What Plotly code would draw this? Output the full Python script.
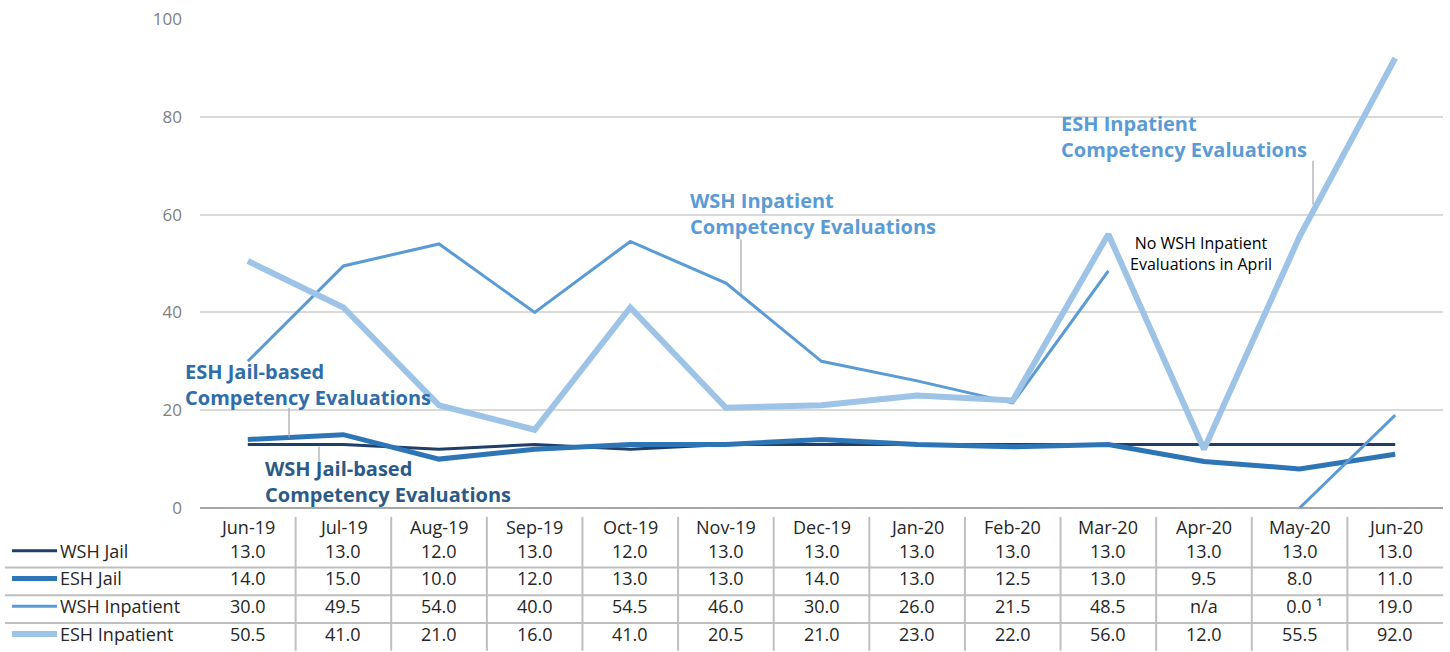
import plotly.graph_objects as go

months = ["Jun-19", "Jul-19", "Aug-19", "Sep-19", "Oct-19", "Nov-19", "Dec-19",
          "Jan-20", "Feb-20", "Mar-20", "Apr-20", "May-20", "Jun-20"]
series_names = ["WSH Jail", "ESH Jail", "WSH Inpatient", "ESH Inpatient"]
wsh_jail = [13.0, 13.0, 12.0, 13.0, 12.0, 13.0, 13.0, 13.0, 13.0, 13.0, 13.0, 13.0, 13.0]
esh_jail = [14.0, 15.0, 10.0, 12.0, 13.0, 13.0, 14.0, 13.0, 12.5, 13.0, 9.5, 8.0, 11.0]
wsh_inpatient = [30.0, 49.5, 54.0, 40.0, 54.5, 46.0, 30.0, 26.0, 21.5, 48.5, None, 0.0, 19.0]
esh_inpatient = [50.5, 41.0, 21.0, 16.0, 41.0, 20.5, 21.0, 23.0, 22.0, 56.0, 12.0, 55.5, 92.0]
footnotes = {("WSH Inpatient", "May-20"): "\u00b9"}
y_ticks = [0, 20, 40, 60, 80, 100]

all_series = [wsh_jail, esh_jail, wsh_inpatient, esh_inpatient]
colors = ["#1F3F66", "#2E75B6", "#5B9BD5", "#9DC3E6"]
widths = [3, 5, 3, 6]

W, H = 1450, 652
ML, MR, MT, MB = 200, 7, 15, 144
PW, PH = W - ML - MR, H - MT - MB


def px(xp):
    return (xp - ML) / PW


def py(yp):
    return (H - MB - yp) / PH


FONT = "Open Sans"
TFS = 18
fig = go.Figure()
for name, vals, c, w in zip(series_names, all_series, colors, widths):
    fig.add_trace(go.Scatter(x=months, y=vals, mode="lines", name=name,
                             line=dict(color=c, width=w), connectgaps=False,
                             showlegend=False, cliponaxis=False))

shapes = []
annotations = []

# ---- table ----
row_y = [py(551), py(579), py(607), py(635)]
header_y = py(527)
for m in months:
    annotations.append(dict(x=m, y=header_y, xref="x", yref="paper", text=m,
                            xanchor="center", yanchor="middle", showarrow=False,
                            font=dict(size=TFS, color="#262626", family=FONT)))
for r, (name, vals) in enumerate(zip(series_names, all_series)):
    for m, v in zip(months, vals):
        t = "n/a" if v is None else f"{v:.1f}"
        if (name, m) in footnotes:
            t = f"  {t} {footnotes[(name, m)]}"
        annotations.append(dict(x=m, y=row_y[r], xref="x", yref="paper", text=t,
                                xanchor="center", yanchor="middle", showarrow=False,
                                font=dict(size=TFS, color="#262626", family=FONT)))
    # legend key
    shapes.append(dict(type="line", xref="paper", yref="paper", x0=px(12), x1=px(57),
                       y0=row_y[r], y1=row_y[r], line=dict(color=colors[r], width=widths[r])))
    annotations.append(dict(x=px(58), y=row_y[r], xref="paper", yref="paper", text=name,
                            xanchor="left", yanchor="middle", showarrow=False,
                            font=dict(size=TFS, color="#262626", family=FONT)))

for yp in [568, 596, 624]:
    shapes.append(dict(type="line", xref="paper", yref="paper", x0=px(5), x1=1,
                       y0=py(yp), y1=py(yp), line=dict(color="#BFBFBF", width=2)))
for i in range(len(months) - 1):
    shapes.append(dict(type="line", xref="x", yref="paper", x0=i + 0.5, x1=i + 0.5,
                       y0=py(517), y1=py(652), line=dict(color="#BFBFBF", width=2)))

# ---- chart labels ----
def label(text, x, y, color, size=20, bold=True):
    annotations.append(dict(x=px(x), y=py(y), xref="paper", yref="paper",
                            text=f"<b>{text}</b>" if bold else text,
                            xanchor="left", yanchor="middle", align="left", showarrow=False,
                            font=dict(size=size, color=color, family=FONT)))


def leader(x, y0, y1):
    shapes.append(dict(type="line", xref="paper", yref="paper", x0=px(x), x1=px(x),
                       y0=py(y0), y1=py(y1), line=dict(color="#A6A6A6", width=1.2)))


label("WSH Inpatient<br>Competency Evaluations", 688, 211, "#5B9BD5")
leader(741, 237, 292)
label("ESH Inpatient<br>Competency Evaluations", 1059, 133, "#5B9BD5")
leader(1313, 158, 202)
label("ESH Jail-based<br>Competency Evaluations", 183, 383, "#2E6DAA")
leader(289, 407, 437)
label("WSH Jail-based<br>Competency Evaluations", 263, 481, "#2B5A88")
leader(319, 446, 468)
annotations.append(dict(x=px(1201), y=py(251), xref="paper", yref="paper",
                        text="No WSH Inpatient<br>Evaluations in April", showarrow=False,
                        xanchor="center", yanchor="middle",
                        align="center", font=dict(size=16, color="#000000", family=FONT)))

fig.update_layout(
    width=W, height=H, margin=dict(l=ML, r=MR, t=MT, b=MB),
    plot_bgcolor="white", paper_bgcolor="white",
    shapes=shapes, annotations=annotations,
    xaxis=dict(type="category", categoryorder="array", categoryarray=months,
               range=[-0.5, len(months) - 0.5], showticklabels=False, showgrid=False,
               zeroline=False, showline=False, ticks=""),
    yaxis=dict(range=[0, 100], tickvals=y_ticks, showgrid=True, gridcolor="#D9D9D9",
               gridwidth=1.5, zeroline=True, zerolinecolor="#A6A6A6", zerolinewidth=2,
               tickfont=dict(size=17, color="#7F7F7F", family=FONT), ticklabelstandoff=17,
               showline=False),
)
fig.write_html("out.html", config={"displayModeBar": False},
               post_script="document.body.style.margin='0';document.body.style.overflow='hidden';")
